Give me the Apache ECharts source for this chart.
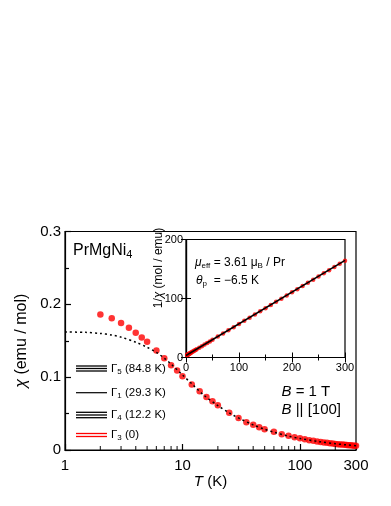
<!DOCTYPE html>
<html>
<head>
<meta charset="utf-8">
<script src="https://cdn.jsdelivr.net/npm/echarts@6/dist/echarts.min.js"></script>
<style>
  html, body { margin: 0; padding: 0; background: #fff; }
  #chart { width: 391px; height: 506px; }
</style>
</head>
<body>
<div id="chart"></div>
<script>
// main panel: chi(T), log T axis
const tMain = [2, 2.5, 3, 3.5, 4, 4.5, 5, 6, 7, 8, 9, 10, 12, 14, 16, 18, 20, 25, 30, 35, 40, 45, 50, 60, 70, 80, 90, 100,
  110, 120, 130, 140, 150, 160, 170, 180, 190, 200, 210, 220, 230, 240, 250, 260, 270, 280, 290, 300]
const chiMain = [0.186, 0.181, 0.1745, 0.168, 0.161, 0.1546, 0.1486, 0.1366, 0.126, 0.1163, 0.109, 0.1012, 0.0898, 0.0807, 0.0729, 0.0669, 0.0614, 0.0512, 0.0438, 0.0382, 0.0346, 0.0313, 0.0285, 0.0249, 0.0216, 0.0194, 0.0175, 0.0161,
  0.0146, 0.0135, 0.0126, 0.0118, 0.0111, 0.0104, 0.0098, 0.0093, 0.0088, 0.0084, 0.0080, 0.0077, 0.0074, 0.0071, 0.0068, 0.0066, 0.0064, 0.0062, 0.0060, 0.0058]
// CEF calculation (dotted)
const tCef = [1, 1.5, 2, 2.5, 3, 4, 5, 6, 7, 8, 10, 12, 15, 20, 25, 30, 40, 50, 60, 80, 100, 150, 200, 250, 300]
const chiCef = [0.162, 0.1615, 0.160, 0.158, 0.155, 0.148, 0.141, 0.134, 0.126, 0.118, 0.103, 0.091, 0.076, 0.061, 0.051, 0.044, 0.0345, 0.0285, 0.0245, 0.019, 0.0158, 0.0112, 0.0086, 0.0070, 0.0060]
const minorTicksT = [2, 3, 4, 5, 6, 7, 8, 9, 20, 30, 40, 50, 60, 70, 80, 90, 200]

// inset: 1/chi vs T
const invChi = [4.2, 4.4, 4.7, 5.0, 5.2, 5.5, 5.8, 6.3, 6.9, 7.4, 7.9, 8.5, 9.6, 10.6, 11.7, 12.8, 13.9, 16.5, 19.2, 21.9, 24.6, 27.3, 30.0, 35.4, 40.7, 46.0, 51.4, 56.8,
  62.2, 67.5, 72.9, 78.3, 83.6, 89.0, 94.4, 99.7, 105.1, 110.4, 115.8, 121.2, 126.6, 131.9, 137.3, 142.6, 148.0, 153.4, 158.7, 164.0]
const tFit = [0, 300]
const invFit = [3.4, 164.5]

const FONT = '"Liberation Sans", Arial, Helvetica, sans-serif'
const RED = '#ff0000'

const mainData = tMain.map((t, i) => [t, chiMain[i]])
const cefData = tCef.map((t, i) => [t, chiCef[i]])
const insetData = tMain.map((t, i) => [t, invChi[i]])
const fitData = tFit.map((t, i) => [t, invFit[i]])

// text with subscript helpers
function subRich(size, lh, pad) {
  return {
    n: { fontSize: size, lineHeight: lh, fontFamily: FONT, color: '#000' },
    i: { fontSize: size, lineHeight: lh, fontFamily: FONT, fontStyle: 'italic', color: '#000' },
    s: { fontSize: Math.round(size * 0.68), lineHeight: lh - pad, padding: [pad, 0, 0, 0], fontFamily: FONT, color: '#000' },
    rn: { fontSize: size, lineHeight: lh, fontFamily: FONT, color: RED },
    rs: { fontSize: Math.round(size * 0.68), lineHeight: lh - pad, padding: [pad, 0, 0, 0], fontFamily: FONT, color: RED },
  }
}
function txt(x, y, text, size, extra) {
  return Object.assign({
    type: 'text', x: x, y: y, z: 100,
    style: { text: text, rich: subRich(size, size + 4, Math.round(size * 0.5)), verticalAlign: 'middle', align: 'left' }
  }, extra || {})
}
function hline(x1, x2, y, color, w) {
  return { type: 'line', z: 100, shape: { x1: x1, y1: y, x2: x2, y2: y }, style: { stroke: color, lineWidth: w } }
}

let axisBlack = { color: '#000', width: 1.2 }

let option = {
  animation: false,
  backgroundColor: '#fff',
  textStyle: { fontFamily: FONT },
  grid: [
    { left: 65, top: 231.5, right: 35, bottom: 56, show: true, borderColor: '#000', borderWidth: 1.2 },
    { left: 186, top: 239.5, width: 159, height: 118, show: true, borderColor: '#000', borderWidth: 1.2 },
  ],
  xAxis: [
    {
      gridIndex: 0, type: 'log', logBase: 10, min: 1, max: 300,
      axisLine: { lineStyle: axisBlack },
      axisTick: { inside: true, length: 6, lineStyle: { color: '#000', width: 1.2 } },
      axisLabel: { fontSize: 15, color: '#000', margin: 8, formatter: v => String(Math.round(v)) },
      splitLine: { show: false },
      name: '{i|T} (K)', nameLocation: 'middle', nameGap: 22,
      nameTextStyle: { fontSize: 15, color: '#000', rich: { i: { fontSize: 15, fontStyle: 'italic', fontFamily: FONT } } },
    },
    {
      gridIndex: 1, type: 'value', min: 0, max: 300, interval: 100,
      axisLine: { lineStyle: axisBlack },
      axisTick: { inside: true, length: 5, lineStyle: { color: '#000' } },
      minorTick: { show: true, splitNumber: 2, length: 3, lineStyle: { color: '#000' } },
      axisLabel: { fontSize: 11, color: '#000', margin: 5 },
      splitLine: { show: false },
    },
    {
      gridIndex: 1, type: 'value', position: 'top', min: 0, max: 300, interval: 100,
      axisLine: { lineStyle: axisBlack },
      axisTick: { inside: true, length: 5, lineStyle: { color: '#000' } },
      minorTick: { show: true, splitNumber: 2, length: 3, lineStyle: { color: '#000' } },
      axisLabel: { show: false },
      splitLine: { show: false },
    },
  ],
  yAxis: [
    {
      gridIndex: 0, type: 'value', min: 0, max: 0.3, interval: 0.1,
      axisLine: { lineStyle: axisBlack },
      axisTick: { inside: true, length: 6, lineStyle: { color: '#000', width: 1.2 } },
      minorTick: { show: true, splitNumber: 2, length: 4, lineStyle: { color: '#000', width: 1.2 } },
      axisLabel: { fontSize: 15, color: '#000', margin: 4, formatter: v => (v === 0 ? '0' : v.toFixed(1)) },
      splitLine: { show: false },
      name: '{i|χ} (emu / mol)', nameLocation: 'middle', nameGap: 28,
      nameTextStyle: { fontSize: 16, color: '#000', rich: { i: { fontSize: 16, fontStyle: 'italic', fontFamily: FONT } } },
    },
    {
      gridIndex: 1, type: 'value', min: 0, max: 200, interval: 100,
      axisLine: { lineStyle: axisBlack },
      axisTick: { inside: true, length: 5, lineStyle: { color: '#000' } },
      axisLabel: { fontSize: 11, color: '#000', margin: 3 },
      splitLine: { show: false },
    },
    {
      gridIndex: 1, type: 'value', position: 'right', min: 0, max: 200, interval: 100,
      axisLine: { lineStyle: axisBlack },
      axisTick: { inside: true, length: 5, lineStyle: { color: '#000' } },
      axisLabel: { show: false },
      splitLine: { show: false },
    },
  ],
  series: [
    {
      // CEF calc
      type: 'line', xAxisIndex: 0, yAxisIndex: 0, data: cefData, smooth: 0.3, symbol: 'none',
      lineStyle: { color: '#000', width: 1.5, type: [2, 3] }, z: 3,
    },
    {
      type: 'scatter', xAxisIndex: 0, yAxisIndex: 0, data: mainData, symbol: 'circle', symbolSize: 6.5,
      itemStyle: { color: RED }, z: 2,
    },
    {
      // log minor ticks on the bottom axis
      type: 'scatter', xAxisIndex: 0, yAxisIndex: 0, clip: false, silent: true,
      data: minorTicksT.map(t => [t, 0]), symbol: 'rect', symbolSize: [1.2, 4], symbolOffset: [0, -2],
      itemStyle: { color: '#000' }, z: 5,
    },
    {
      type: 'scatter', xAxisIndex: 1, yAxisIndex: 1, data: insetData, symbol: 'circle', symbolSize: 4.5,
      itemStyle: { color: RED }, z: 2,
    },
    {
      type: 'line', xAxisIndex: 1, yAxisIndex: 1, data: fitData, symbol: 'none',
      lineStyle: { color: '#000', width: 1.5 }, z: 4,
    },
  ],
  graphic: [
    txt(73, 251, '{n|PrMgNi}{s|4}', 16),
    // CEF level scheme
    hline(76, 107, 366, '#000', 1.3), hline(76, 107, 368.5, '#000', 1.3), hline(76, 107, 371, '#000', 1.3),
    hline(76, 107, 392.7, '#000', 1.2),
    hline(76, 107, 412.3, '#000', 1.3), hline(76, 107, 415, '#000', 1.3), hline(76, 107, 417.7, '#000', 1.3),
    hline(76, 107, 433.5, RED, 1.3), hline(76, 107, 436.5, RED, 1.3),
    txt(111, 368.5, '{n|Γ}{s|5}{n| (84.8 K)}', 11.5),
    txt(111, 392.7, '{n|Γ}{s|1}{n| (29.3 K)}', 11.5),
    txt(111, 415, '{n|Γ}{s|4}{n| (12.2 K)}', 11.5),
    txt(111, 435, '{rn|Γ}{rs|3}{rn| (0)}', 11.5),
    // inset annotations
    txt(195, 263, '{i|μ}{s|eff}{n| = 3.61 μ}{s|B}{n| / Pr}', 12),
    txt(196, 281, '{i|θ}{s|p}{n|  = −6.5 K}', 12),
    {
      type: 'text', x: 159, y: 268, rotation: Math.PI / 2, z: 100,
      style: {
        text: '{n|1/}{i|χ}{n| (mol / emu)}', align: 'center', verticalAlign: 'middle',
        rich: subRich(12, 14, 5),
      },
    },
    txt(281.5, 391.5, '{i|B}{n| = 1 T}', 15),
    txt(281.5, 410, '{i|B}{n| || [100]}', 15),
  ],
}

let myChart = echarts.init(document.getElementById('chart'))
myChart.setOption(option)
</script>
</body>
</html>
